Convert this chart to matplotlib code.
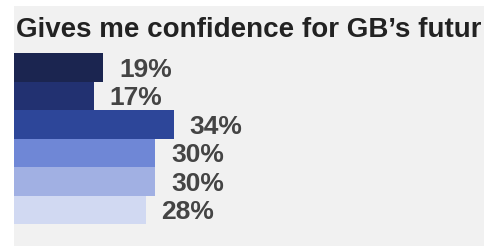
import matplotlib
matplotlib.use("Agg")
import matplotlib.pyplot as plt
from matplotlib.patches import Rectangle
from matplotlib.transforms import Bbox, TransformedBbox

title = "Gives me confidence for GB\u2019s future"
values = [19, 17, 34, 30, 30, 28]
labels = ["19%", "17%", "34%", "30%", "30%", "28%"]
colors = ["#1b2550", "#223171", "#2d4699", "#6f87d6", "#a1b0e3", "#d1d9f2"]

W, H = 485, 246
fig = plt.figure(figsize=(W / 100, H / 100), dpi=100)
fig.patch.set_facecolor("white")
bg = Rectangle((14 / W, 0), (484 - 14) / W, (H - 6) / H,
               transform=fig.transFigure, facecolor="#f1f1f1",
               edgecolor="none", zorder=-10)
fig.patches.append(bg)

t = fig.text(16 / W, (H - 37.3) / H, title, fontsize=20, fontweight="bold",
             color="#222222", family=["Liberation Sans", "DejaVu Sans"],
             ha="left", va="baseline", zorder=5)
clip = TransformedBbox(Bbox([[14 / W, 0], [481.5 / W, 1]]), fig.transFigure)
t.set_clip_box(clip)
t.set_clip_on(True)

ax = fig.add_axes([14 / W, (H - 224) / H, (W - 14) / W, (224 - 53) / H], zorder=2)
ax.set_facecolor("none")
ax.axis("off")
ypos = list(range(len(values)))
ax.barh(ypos, values, height=1.0, color=colors, edgecolor="none")
ax.set_xlim(0, (W - 14) / 4.7)
ax.set_ylim(len(values) - 0.5, -0.5)

for y, v, lab in zip(ypos, values, labels):
    ax.annotate(lab, xy=(v, y), xytext=(11.5, -6.7), textcoords="offset points",
                ha="left", va="baseline", fontsize=19, fontweight="bold",
                color="#444444", family=["Liberation Sans", "DejaVu Sans"])

fig.savefig("out.png", dpi=100, facecolor=fig.get_facecolor())
